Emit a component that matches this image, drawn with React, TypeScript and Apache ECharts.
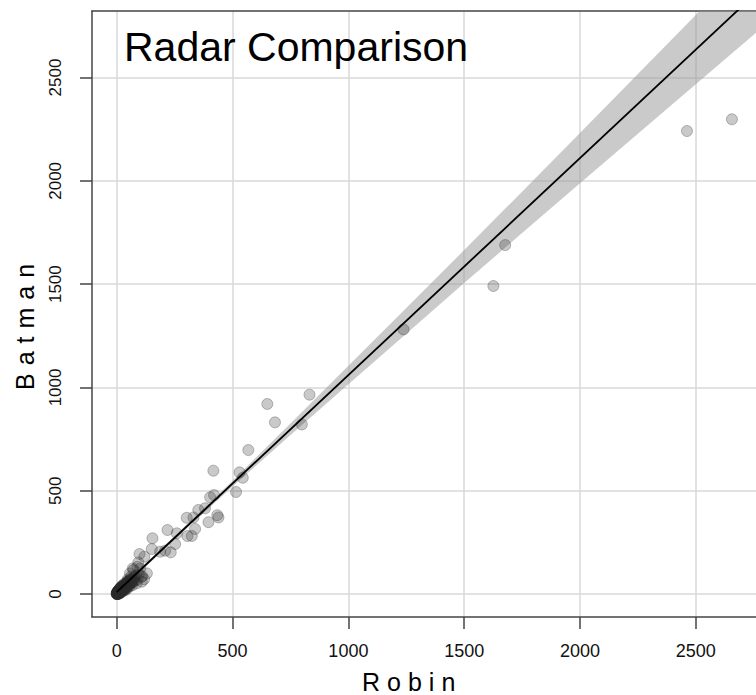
import React, { useEffect, useRef } from "react";
import * as echarts from "echarts";

// ---- data ----
const robin = [
  2656, 2462, 1677, 1626, 1238, 832, 799, 683, 650, 568, 417, 530, 544, 515, 420, 403, 434, 439, 396, 352,
  381, 331, 302, 338, 305, 324, 259, 219, 252, 233, 209, 187, 154, 151, 98, 119, 93, 69, 57, 101,
  130, 108, 106, 72, 89,
  0, 1, 2, 3, 4, 5, 6, 8, 9, 10, 11, 13, 14, 16, 18, 19, 21, 23, 25, 27,
  29, 31, 34, 36, 38, 41, 44, 46, 49, 52, 55, 58, 61, 64, 67, 70, 74, 78, 82, 86,
  90, 95, 110, 118, 30, 15, 45, 62, 20, 7,
  0, 1, 2, 2, 3, 5, 6, 7, 9, 11, 12, 14, 17, 20, 22, 24, 26, 28, 32, 35,
  37, 40, 43, 47, 50, 54, 57, 60, 66, 12, 8, 4, 27, 39, 48,
  0, 0, 1, 1, 2, 3, 3, 4, 5, 6, 7, 8, 10, 11, 13, 15, 16, 18, 20, 22,
  25, 28, 31, 34, 38, 42, 46, 52, 58, 64, 9, 14, 19, 24, 33, 44, 70, 76, 6, 3,
];
const batman = [
  2298, 2241, 1689, 1491, 1281, 965, 821, 831, 920, 697, 597, 589, 563, 494, 479, 468, 382, 371, 348, 407,
  415, 371, 369, 315, 281, 281, 294, 310, 242, 202, 210, 205, 270, 218, 194, 181, 153, 124, 100, 124,
  100, 60, 84, 116, 132,
  0, 3, 1, 6, 2, 9, 4, 12, 6, 3, 15, 9, 18, 12, 24, 8, 16, 30, 20, 14,
  35, 26, 22, 42, 30, 50, 36, 28, 56, 44, 38, 64, 50, 72, 42, 58, 80, 64, 90, 52,
  70, 96, 86, 72, 48, 30, 62, 86, 38, 18,
  2, 0, 4, 8, 10, 5, 14, 2, 20, 7, 24, 28, 10, 22, 34, 18, 40, 24, 32, 46,
  26, 44, 54, 40, 62, 48, 66, 56, 60, 20, 16, 12, 42, 20, 72,
  1, 5, 0, 8, 4, 1, 10, 6, 12, 2, 16, 5, 14, 20, 8, 26, 12, 22, 30, 16,
  34, 20, 38, 28, 46, 34, 52, 44, 70, 58, 18, 4, 26, 32, 24, 58, 64, 82, 0, 12,
];

// fitted line (intercept, slope) and its confidence band half-width
const fitCoef = [10, 1.05];
const bandX = [0, 250, 500, 750, 1000, 1250, 1500, 1750, 2000, 2250, 2500, 2750, 2850];
const bandHalf = [8, 8, 14, 28, 45, 62, 80, 100, 122, 145, 168, 190, 199];
const lineX = [0, 2850];

const xTicks = [0, 500, 1000, 1500, 2000, 2500];
const yTicks = [0, 500, 1000, 1500, 2000, 2500];

const title = "Radar Comparison";
const xName = "Robin";
const yName = "Batman";

const fit = (x: number) => fitCoef[0] + fitCoef[1] * x;

export default function App() {
  const ref = useRef<HTMLDivElement>(null);

  useEffect(() => {
    document.body.style.margin = "0";
    if (!ref.current) return;
    const chart = echarts.init(ref.current, undefined, { renderer: "svg" });
    const font = "'Liberation Sans', Arial, sans-serif";
    const axisColor = "#444";
    const gridColor = "#d9d9d9";
    const points = robin.map((x, i) => [x, batman[i]]);
    const plain = (v: number) => String(v);

    chart.setOption({
      animation: false,
      backgroundColor: "#fff",
      grid: { left: 92, top: 11, right: 0, bottom: 78 },
      xAxis: [
        {
          type: "value",
          min: -107,
          max: 2760,
          position: "bottom",
          axisLine: { show: true, onZero: false, lineStyle: { color: axisColor, width: 1.5 } },
          axisTick: { show: true, inside: false, length: 12, customValues: xTicks, lineStyle: { color: axisColor, width: 1.5 } },
          axisLabel: { customValues: xTicks, formatter: plain, fontSize: 18, color: "#111", margin: 25, fontFamily: font },
          splitLine: { show: true, lineStyle: { color: gridColor, width: 1.5 } },
        },
        {
          type: "value",
          min: -107,
          max: 2760,
          position: "top",
          axisLine: { show: true, onZero: false, lineStyle: { color: axisColor, width: 1.5 } },
          axisTick: { show: false },
          axisLabel: { show: false },
          splitLine: { show: false },
        },
      ],
      yAxis: {
        type: "value",
        min: -111,
        max: 2822,
        axisLine: { show: true, onZero: false, lineStyle: { color: axisColor, width: 1.5 } },
        axisTick: { show: true, inside: false, length: 12, customValues: yTicks, lineStyle: { color: axisColor, width: 1.5 } },
        axisLabel: { customValues: yTicks, formatter: plain, fontSize: 17, color: "#111", margin: 28, rotate: 90, fontFamily: font },
        splitLine: { show: true, lineStyle: { color: gridColor, width: 1.5 } },
      },
      graphic: [
        {
          type: "text",
          left: 124,
          top: 26,
          style: { text: title, fontSize: 41, fontFamily: font, fill: "#000" },
          z: 100,
        },
        {
          type: "text",
          x: 362,
          y: 682,
          style: { text: xName, fontSize: 25, fontFamily: font, fill: "#000", align: "left", verticalAlign: "middle" },
        },
        {
          type: "text",
          x: 25,
          y: 390,
          rotation: Math.PI / 2,
          style: { text: yName, fontSize: 25, fontFamily: font, fill: "#000", align: "left", verticalAlign: "middle" },
        },
      ],
      series: [
        {
          type: "custom",
          clip: true,
          data: [0],
          z: 2,
          renderItem: (params: any, api: any) => {
            const upper = bandX.map((x, i) => api.coord([x, fit(x) + bandHalf[i]]));
            const lower = bandX.map((x, i) => api.coord([x, fit(x) - bandHalf[i]])).reverse();
            return {
              type: "polygon",
              shape: { points: upper.concat(lower) },
              style: { fill: "rgba(150,150,150,0.5)", stroke: "none" },
            };
          },
        },
        {
          type: "scatter",
          data: points,
          symbolSize: 11,
          z: 3,
          itemStyle: { color: "rgba(45,45,45,0.32)", borderColor: "rgba(45,45,45,0.38)", borderWidth: 1 },
        },
        {
          type: "line",
          data: lineX.map((x) => [x, fit(x)]),
          showSymbol: false,
          clip: true,
          z: 4,
          lineStyle: { color: "#000", width: 1.8 },
        },
      ],
    });

    const applySpacing = () => {
      if (!ref.current) return;
      ref.current.querySelectorAll("text").forEach((t) => {
        if (t.textContent === xName) t.setAttribute("letter-spacing", "7");
        if (t.textContent === yName) t.setAttribute("letter-spacing", "8");
      });
    };
    applySpacing();
    const raf = requestAnimationFrame(applySpacing);
    const tm = setTimeout(applySpacing, 50);

    return () => {
      cancelAnimationFrame(raf);
      clearTimeout(tm);
      chart.dispose();
    };
  }, []);

  return <div ref={ref} style={{ width: 756, height: 695 }} />;
}
